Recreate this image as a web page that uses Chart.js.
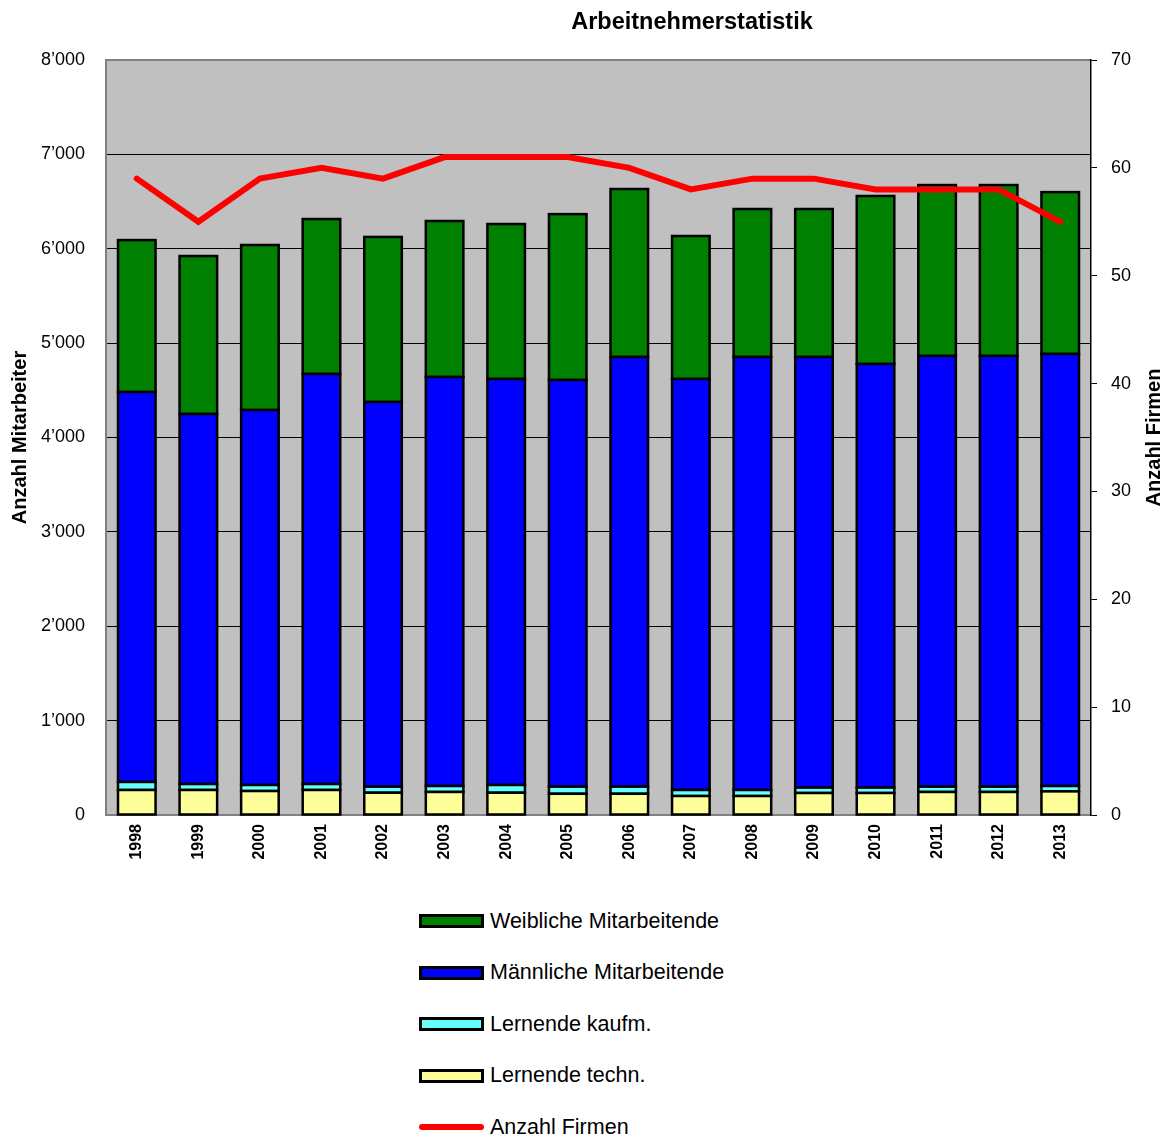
<!DOCTYPE html>
<html>
<head>
<meta charset="utf-8">
<script src="https://cdn.jsdelivr.net/npm/chart.js@4/dist/chart.umd.min.js"></script>
<style>
  body { margin: 0; background: #fff; font-family: "Liberation Sans", Arial, sans-serif; }
  #wrap { position: relative; width: 1170px; height: 1137px; }
  #legend { position: absolute; left: 419px; top: 906px; }
  .item { display: flex; align-items: center; height: 30px; margin-bottom: 21.5px; font-size: 21.5px; color: #000; }
  .swatch { width: 59px; height: 8px; border: 3px solid #000; margin-right: 6px; }
  .lineSwatch { width: 65px; height: 6px; border-radius: 3px; margin-right: 6px; }
</style>
</head>
<body>
<div id="wrap">
  <canvas id="myChart" width="1170" height="880"></canvas>
  <div id="legend"></div>
</div>
<script>
// categories and values
var years = ['1998','1999','2000','2001','2002','2003','2004','2005','2006','2007','2008','2009','2010','2011','2012','2013'];
var lernendeTechn = [265, 265, 254, 265, 236, 244, 236, 225, 225, 201, 201, 233, 233, 244, 244, 250];
var lernendeKaufm = [85, 63, 64, 63, 64, 63, 82, 75, 75, 64, 64, 57, 57, 56, 56, 57];
var maennlich = [4132, 3921, 3973, 4345, 4076, 4334, 4302, 4309, 4553, 4355, 4588, 4563, 4489, 4564, 4564, 4578];
var weiblich = [1610, 1674, 1749, 1642, 1749, 1653, 1642, 1758, 1780, 1515, 1568, 1568, 1780, 1811, 1811, 1715];
var firmen = [59, 55, 59, 60, 59, 61, 61, 61, 60, 58, 59, 59, 58, 58, 58, 55];

var FONT = '"Liberation Sans", Arial, sans-serif';

// thousands separator like 8’000
function fmt(v) {
    return v.toString().replace(/\B(?=(\d{3})+(?!\d))/g, '\u2019');
}

// gray plot area, bar outlines on the edges, chart title and right axis title
var decor = {
    id: 'decor',
    beforeDraw: function (chart) {
        var a = chart.chartArea;
        var ctx = chart.ctx;
        ctx.save();
        ctx.fillStyle = '#c0c0c0';
        ctx.fillRect(a.left, a.top, a.right - a.left, a.bottom - a.top);
        ctx.restore();
    },
    afterDatasetDraw: function (chart, args) {
        var meta = args.meta;
        if (meta.type !== 'bar') return;
        var ctx = chart.ctx;
        ctx.save();
        ctx.strokeStyle = '#000';
        ctx.lineWidth = 2.5;
        meta.data.forEach(function (bar) {
            var p = bar.getProps(['x', 'y', 'base', 'width'], true);
            var top = Math.min(p.y, p.base);
            var h = Math.abs(p.base - p.y);
            ctx.strokeRect(p.x - p.width / 2, top, p.width, h);
        });
        ctx.restore();
    },
    afterDraw: function (chart) {
        var ctx = chart.ctx;
        var a = chart.chartArea;
        ctx.save();
        ctx.fillStyle = '#000';
        ctx.textAlign = 'center';
        ctx.textBaseline = 'middle';
        ctx.font = 'bold 23.5px ' + FONT;
        ctx.fillText('Arbeitnehmerstatistik', 692, 23);
        // right axis title, reads bottom to top
        ctx.translate(1154, (a.top + a.bottom) / 2);
        ctx.rotate(-Math.PI / 2);
        ctx.font = 'bold 20px ' + FONT;
        ctx.fillText('Anzahl Firmen', 0, 0);
        ctx.restore();
    }
};

var barBase = {
    type: 'bar',
    borderWidth: 0,
    categoryPercentage: 1.0,
    barPercentage: 0.61,
    yAxisID: 'y',
    order: 2
};

var datasets = [
    Object.assign({}, barBase, { label: 'Lernende techn.', data: lernendeTechn, backgroundColor: '#ffff99' }),
    Object.assign({}, barBase, { label: 'Lernende kaufm.', data: lernendeKaufm, backgroundColor: '#66ffff' }),
    Object.assign({}, barBase, { label: 'Männliche Mitarbeitende', data: maennlich, backgroundColor: '#0000ff' }),
    Object.assign({}, barBase, { label: 'Weibliche Mitarbeitende', data: weiblich, backgroundColor: '#008000' }),
    {
        type: 'line',
        label: 'Anzahl Firmen',
        data: firmen,
        borderColor: '#ff0000',
        backgroundColor: '#ff0000',
        borderWidth: 6,
        pointRadius: 0,
        tension: 0,
        fill: false,
        borderCapStyle: 'round',
        yAxisID: 'y1',
        order: 1
    }
];

var ctx = document.getElementById('myChart').getContext('2d');
var chart = new Chart(ctx, {
    data: { labels: years, datasets: datasets },
    plugins: [decor],
    options: {
        responsive: false,
        animation: false,
        layout: { padding: { top: 60, left: 0, right: 0, bottom: 0 } },
        plugins: {
            legend: { display: false },
            tooltip: { enabled: false },
            title: { display: false }
        },
        scales: {
            x: {
                stacked: true,
                grid: { display: false, drawTicks: false },
                border: { color: '#808080', width: 2 },
                ticks: {
                    color: '#000',
                    font: { family: FONT, size: 16, weight: 'bold' },
                    minRotation: 90,
                    maxRotation: 90,
                    padding: 9
                },
                afterFit: function (scale) { scale.height = 65; }
            },
            y: {
                stacked: true,
                position: 'left',
                min: 0,
                max: 8000,
                ticks: {
                    stepSize: 1000,
                    color: '#000',
                    font: { family: FONT, size: 18 },
                    padding: 21,
                    callback: function (v) { return fmt(v); }
                },
                grid: {
                    drawTicks: false,
                    color: function (c) { return c.tick && c.tick.value === 8000 ? '#808080' : '#000'; },
                    lineWidth: function (c) { return c.tick && c.tick.value === 8000 ? 2 : 1; }
                },
                border: { color: '#808080', width: 2 },
                title: {
                    display: true,
                    text: 'Anzahl Mitarbeiter',
                    color: '#000',
                    font: { family: FONT, size: 20, weight: 'bold' },
                    padding: { top: 8, bottom: 0 }
                },
                afterFit: function (scale) { scale.width = 106; }
            },
            y1: {
                position: 'right',
                min: 0,
                max: 70,
                ticks: {
                    stepSize: 10,
                    color: '#000',
                    font: { family: FONT, size: 18 },
                    padding: 14
                },
                grid: { drawOnChartArea: false, tickLength: 6, color: '#000' },
                border: { color: '#000', width: 1.5 },
                afterFit: function (scale) { scale.width = 79; }
            }
        }
    }
});

// legend below the chart, top to bottom like the original
var legend = document.getElementById('legend');
var legendOrder = [3, 2, 1, 0, 4];
legendOrder.forEach(function (i) {
    var ds = datasets[i];
    var row = document.createElement('div');
    row.className = 'item';
    var sw = document.createElement('span');
    if (ds.type === 'line') {
        sw.className = 'lineSwatch';
        sw.style.background = ds.borderColor;
    } else {
        sw.className = 'swatch';
        sw.style.background = ds.backgroundColor;
    }
    row.appendChild(sw);
    var txt = document.createElement('span');
    txt.textContent = ds.label;
    row.appendChild(txt);
    legend.appendChild(row);
});
</script>
</body>
</html>
